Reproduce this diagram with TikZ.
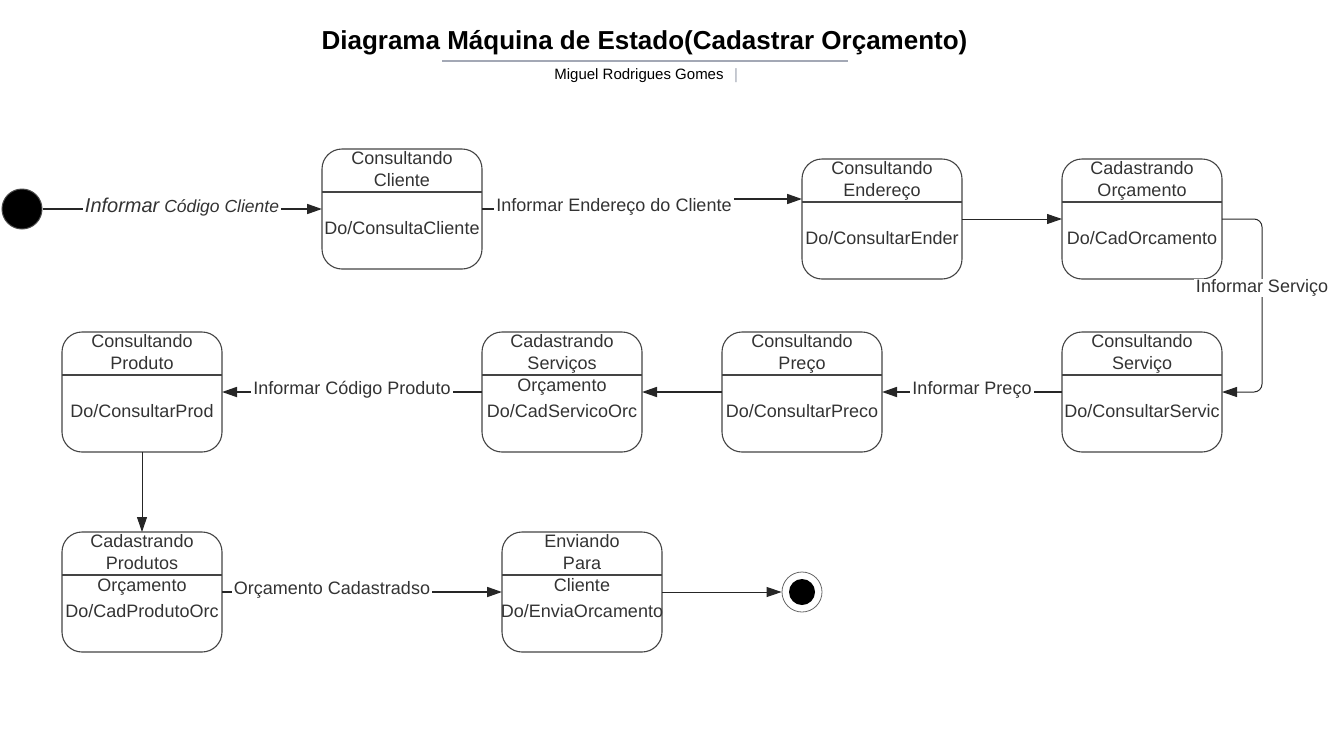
\documentclass[tikz,border=0pt]{standalone}
\usepackage{fontspec}
\setmainfont{Liberation Sans}
\usetikzlibrary{arrows.meta,calc}
\definecolor{stroke}{HTML}{444444}
\definecolor{txt}{HTML}{333333}
\definecolor{uline}{HTML}{A3A8B5}
\tikzset{
  stbox/.style={draw=stroke, line width=1.1pt, rounded corners=20pt, minimum width=160pt, minimum height=120pt, inner sep=0pt, outer sep=0pt},
  divline/.style={draw=stroke, line width=1.1pt},
  sttext/.style={text=txt, font=\fontsize{18}{22}\selectfont, align=center, inner sep=0pt},
  lbl/.style={text=txt, font=\fontsize{18}{22}\selectfont, fill=white, inner xsep=2pt, inner ysep=1pt},
  conn/.style={draw=black!85, line width=1.7pt, -{Triangle[length=15pt,width=10pt]}},
  connthin/.style={draw=black!85, line width=1pt, -{Triangle[length=15pt,width=10pt]}},
  plainline/.style={draw=black!85, line width=1.7pt},
}
\newcommand\StateBox[5]{%
  \node[stbox, anchor=north] (#1) at (#2,#3) {};
  \draw[divline] ([yshift=-43pt]#1.north west) -- ([yshift=-43pt]#1.north east);
  \node[sttext, anchor=north] (#1h) at ([yshift=-2pt]#1.north) {#4};
  \node[sttext] (#1b) at ([yshift=-79pt]#1.north) {#5};
}
\begin{document}
\begin{tikzpicture}[x=1pt,y=-1pt]
\useasboundingbox (0,0) rectangle (1338,742);
% title
\node[font=\bfseries\fontsize{26}{30}\selectfont, text=black, inner sep=0pt] (title) at (644.5,43) {Diagrama Máquina de Estado(Cadastrar Orçamento)};
\coordinate (ulA) at (442,61);
\coordinate (ulB) at (848,61);
\draw[uline, line width=1.8pt] (ulA) -- (ulB);
\node[font=\fontsize{15}{18}\selectfont, text=black, inner sep=0pt] (author) at (639,76) {Miguel Rodrigues Gomes};
\node[font=\fontsize{15}{18}\selectfont, text=uline, inner sep=0pt] (bar) at (736,76) {|};
% initial / final
\node[circle, fill=black, draw=black!70, line width=1pt, minimum size=40pt, inner sep=0pt] (ini) at (22,209) {};
\node[circle, draw=black!60, line width=0.8pt, minimum size=40pt, inner sep=0pt] (fin) at (802,592) {};
\node[circle, fill=black, minimum size=26pt, inner sep=0pt] (finin) at (802,592) {};
% states
\StateBox{s1}{402}{149}{Consultando\\Cliente}{Do/ConsultaCliente}
\StateBox{s2}{882}{159}{Consultando\\Endereço}{Do/ConsultarEnder}
\StateBox{s3}{1142}{159}{Cadastrando\\Orçamento}{Do/CadOrcamento}
\StateBox{s4}{1142}{332}{Consultando\\Serviço}{Do/ConsultarServic}
\StateBox{s5}{802}{332}{Consultando\\Preço}{Do/ConsultarPreco}
\StateBox{s6}{562}{332}{Cadastrando\\Serviços\\Orçamento}{Do/CadServicoOrc}
\StateBox{s7}{142}{332}{Consultando\\Produto}{Do/ConsultarProd}
\StateBox{s8}{142}{532}{Cadastrando\\Produtos\\Orçamento}{Do/CadProdutoOrc}
\StateBox{s9}{582}{532}{Enviando\\Para\\Cliente}{Do/EnviaOrcamento}
% connectors
\draw[conn] (ini) -- (s1.west);
\node[lbl, font={\itshape\fontsize{17.5}{22}\selectfont}] (l0) at (182,207) {{\fontsize{20}{22}\selectfont Informar} Código Cliente};
\node[lbl, fill=none] (l1) at (614,207) {Informar Endereço do Cliente};
\draw[plainline] (s1.east) -- (l1.west |- s1.east);
\draw[conn] ($(l1.east)+(0,-8)$) -- ([yshift=20pt]s2.west);
\draw[connthin] (s2.east) -- (s3.west);
\draw[connthin, rounded corners=8pt] (s3.east) -- ++(40,0) |- (s4.east);
\node[lbl] (l3) at (1262,288) {Informar Serviço};
\draw[conn] (s4.west) -- (s5.east);
\node[lbl] (l4) at (972,390) {Informar Preço};
\draw[conn] (s5.west) -- (s6.east);
\draw[conn] (s6.west) -- (s7.east);
\node[lbl] (l6) at (352,390) {Informar Código Produto};
\draw[connthin] (s7.south) -- (s8.north);
\draw[conn] (s8.east) -- (s9.west);
\node[lbl] (l8) at (332,590) {Orçamento Cadastradso};
\draw[connthin] (s9.east) -- (fin.west);
\end{tikzpicture}
\end{document}
